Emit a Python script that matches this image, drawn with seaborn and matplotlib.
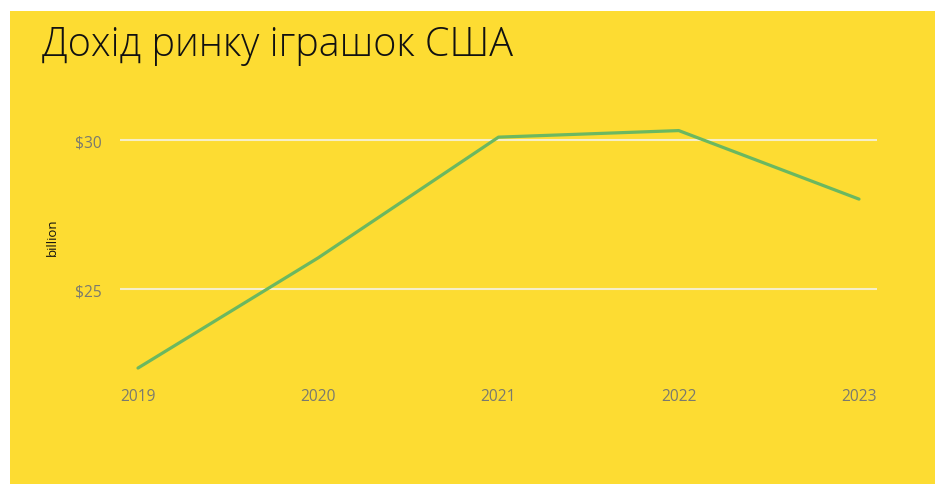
import pandas as pd
import seaborn as sns
import matplotlib.pyplot as plt
from matplotlib.patches import Rectangle
from matplotlib.ticker import FuncFormatter

# Data (USD billion)
years = [2019, 2020, 2021, 2022, 2023]
revenue = [22.35, 26.05, 30.1, 30.32, 28.02]

TITLE = "Дохід ринку іграшок США"
BG = "#FDDC32"
LINE = "#6BB860"
GREY = "#7A7A6E"

df = pd.DataFrame({"year": years, "revenue": revenue})

sns.set_style("white")
plt.rcParams['font.family'] = ['Open Sans', 'DejaVu Sans']

fig = plt.figure(figsize=(9.35, 4.85), dpi=100)
fig.patch.set_facecolor("white")
fig.patches.append(Rectangle((10 / 935, 0), 1, (485 - 12) / 485,
                             transform=fig.transFigure, facecolor=BG,
                             edgecolor="none", zorder=-10))

ax = fig.add_axes([120 / 935, 110 / 485, 757 / 935, 275 / 485])
ax.set_facecolor("none")

sns.lineplot(data=df, x="year", y="revenue", color=LINE, linewidth=2.3, ax=ax)

ax.set_xlim(2019 - 18 / 180.25, 2023 + 18 / 180.25)
ax.set_ylim(22.15, 31.38)
ax.set_xticks(years)
ax.set_yticks([25, 30])
ax.yaxis.set_major_formatter(FuncFormatter(lambda v, p: f"${v:.0f}"))
ax.grid(axis="y", color="#F6EFC8", linewidth=1.5)
ax.grid(axis="x", visible=False)
for s in ax.spines.values():
    s.set_visible(False)
ax.tick_params(axis="both", length=0, labelsize=11.2, labelcolor=GREY)
ax.tick_params(axis="x", pad=10)
ax.tick_params(axis="y", pad=13)
ax.set_xlabel("")
ax.set_ylabel("billion", fontsize=9.5, color="#111111", labelpad=12)

fig.text(42 / 935, 1 - 56 / 485, TITLE, fontsize=28.5, fontweight="light",
         color="#111111", ha="left", va="baseline")

fig.savefig("out.png", dpi=100)
plt.close(fig)
